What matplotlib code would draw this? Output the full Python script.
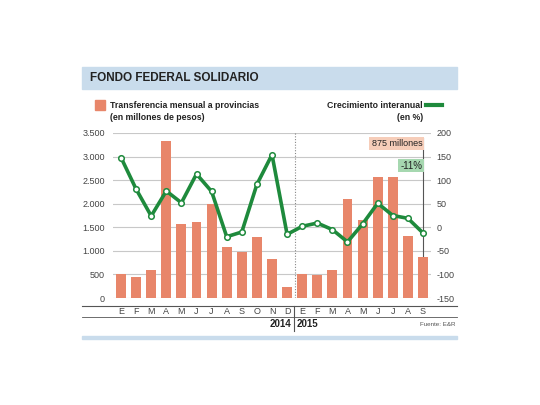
import matplotlib
matplotlib.use("Agg")
import matplotlib.pyplot as plt
from matplotlib.patches import Rectangle
from matplotlib.lines import Line2D

plt.rcParams['font.family'] = ['Liberation Sans Narrow', 'Liberation Sans', 'DejaVu Sans']
plt.rcParams['axes.unicode_minus'] = False

months = ['E', 'F', 'M', 'A', 'M', 'J', 'J', 'A', 'S', 'O', 'N', 'D',
          'E', 'F', 'M', 'A', 'M', 'J', 'J', 'A', 'S']
transfer = [500, 440, 595, 3340, 1570, 1610, 2000, 1075, 970, 1290, 820, 235,
            500, 490, 595, 2100, 1650, 2570, 2570, 1310, 875]
growth = [148, 81, 24, 77, 52, 113, 76, -20, -10, 91, 154, -15,
          2, 9, -5, -31, 7, 51, 25, 19, -12]
left_ticks = [0, 500, 1000, 1500, 2000, 2500, 3000, 3500]
right_ticks = [-150, -100, -50, 0, 50, 100, 150, 200]

BAR = '#e8866a'
GREEN = '#1e8a3c'
BAND = '#c9dcec'
GRID = '#c8c8c8'
TXT = '#222222'

W, H = 540, 405
fig = plt.figure(figsize=(W / 100, H / 100), dpi=100)


def fx(px):
    return px / W


def fy(py):
    return 1 - py / H


# title band
fig.patches.append(Rectangle((fx(82), fy(89)), fx(457) - fx(82), fy(67) - fy(89),
                             transform=fig.transFigure, color=BAND, zorder=0))
fig.text(fx(90), fy(78), 'FONDO FEDERAL SOLIDARIO', fontsize=8.5, fontweight='bold',
         color=TXT, va='center', ha='left')
# bottom band
fig.patches.append(Rectangle((fx(82), fy(339)), fx(457) - fx(82), fy(336) - fy(339),
                             transform=fig.transFigure, color=BAND, zorder=0))

# legend
fig.patches.append(Rectangle((fx(95), fy(110)), fx(10), 10 / H,
                             transform=fig.transFigure, color=BAR))
fig.text(fx(110), fy(105), 'Transferencia mensual a provincias', fontsize=6.3,
         fontweight='bold', color=TXT, va='center')
fig.text(fx(110), fy(118), '(en millones de pesos)', fontsize=6.3,
         fontweight='bold', color=TXT, va='center')
fig.text(fx(423), fy(105), 'Crecimiento interanual', fontsize=6.3,
         fontweight='bold', color=TXT, va='center', ha='right')
fig.text(fx(423), fy(118), '(en %)', fontsize=6.3,
         fontweight='bold', color=TXT, va='center', ha='right')
fig.lines.append(Line2D([fx(426), fx(442)], [fy(105), fy(105)], transform=fig.transFigure,
                        color=GREEN, lw=3))

ax = fig.add_axes([fx(113), fy(298), fx(431) - fx(113), fy(133) - fy(298)])
ax.set_xlim(-0.53, 20.53)
ax.set_ylim(0, 3500)
ax.set_yticks(left_ticks)
ax.set_yticklabels([f'{v:,}'.replace(',', '.') for v in left_ticks])
ax.grid(axis='y', color=GRID, lw=0.8)
ax.set_axisbelow(True)
for s in ax.spines.values():
    s.set_visible(False)
ax.tick_params(axis='y', length=0, labelsize=6.5, colors='#444444', pad=6)
ax.set_xticks([])

x = list(range(len(months)))
ax.bar(x, transfer, width=0.65, color=BAR, zorder=2)
ax.axvline(11.5, color='#888888', lw=0.8, ls=(0, (1, 1.5)), zorder=1)
ax.plot([20, 20], [0, 3400], color='#555555', lw=0.8, zorder=1)

ax2 = ax.twinx()
ax2.set_ylim(-150, 200)
ax2.set_yticks(right_ticks)
for s in ax2.spines.values():
    s.set_visible(False)
ax2.tick_params(axis='y', length=0, labelsize=6.5, colors='#444444', pad=4)
ax2.plot(x, growth, color=GREEN, lw=2.6, marker='o', markersize=4,
         markerfacecolor='white', markeredgecolor=GREEN, markeredgewidth=1.1, zorder=3)
ax2.text(19.95, 178, '875 millones', fontsize=6.5, ha='right', va='center', color=TXT,
         bbox=dict(boxstyle='square,pad=0.25', fc='#f6cdb9', ec='none'))
ax2.text(19.95, 131, '-11%', fontsize=7, ha='right', va='center', color=TXT,
         bbox=dict(boxstyle='square,pad=0.2', fc='#a6d8b0', ec='none'))

# x axis area
fig.lines.append(Line2D([fx(82), fx(457)], [fy(306), fy(306)], transform=fig.transFigure,
                        color='#555555', lw=0.8))
fig.lines.append(Line2D([fx(82), fx(457)], [fy(316.5), fy(316.5)], transform=fig.transFigure,
                        color='#555555', lw=0.6))
fig.lines.append(Line2D([fx(294), fx(294)], [fy(306), fy(331)], transform=fig.transFigure,
                        color='#555555', lw=0.8))
for i, m in enumerate(months):
    ax.annotate(m, xy=(i, 0), xycoords=('data', 'axes fraction'), xytext=(0, -13),
                textcoords='offset pixels', ha='center', va='center', fontsize=6.5,
                color='#444444')
fig.text(fx(291), fy(324), '2014', fontsize=7, fontweight='bold', ha='right',
         va='center', color=TXT)
fig.text(fx(297), fy(324), '2015', fontsize=7, fontweight='bold', ha='left',
         va='center', color=TXT)
fig.text(fx(455), fy(324), 'Fuente: E&R', fontsize=4.5, ha='right', va='center',
         color='#555555')

fig.savefig('out.png', dpi=100, facecolor='white')
